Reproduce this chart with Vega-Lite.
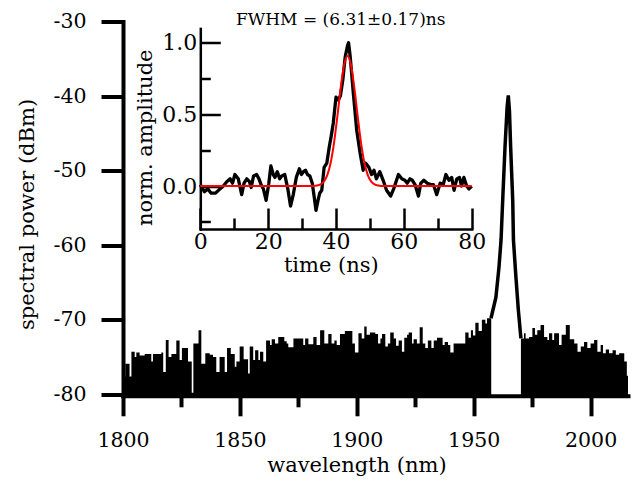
{
"$schema": "https://vega.github.io/schema/vega-lite/v6.json",
"width": 505, "height": 374.3,
"autosize": {"type": "none"},
"padding": {"left": 123, "top": 21.5, "right": 8, "bottom": 85.2},
"background": "white",
"config": {
  "view": {"stroke": null},
  "axis": {"grid": false, "labelFont": "DejaVu Serif", "titleFont": "DejaVu Serif", "labelColor": "black", "titleColor": "black", "domainColor": "black", "tickColor": "black", "titleFontWeight": "normal", "labelOverlap": false, "labelBound": false, "labelFlush": false, "domainCap": "square"}
},
"datasets": {
"spectrum": [
{"wl":1800.0,"p":-77.6,"seg":"a"},{"wl":1801.0,"p":-75.9,"seg":"a"},{"wl":1802.8,"p":-77.6,"seg":"a"},{"wl":1803.6,"p":-74.3,"seg":"a"},{"wl":1805.0,"p":-75.0,"seg":"a"},{"wl":1805.7,"p":-74.4,"seg":"a"},{"wl":1807.1,"p":-74.8,"seg":"a"},{"wl":1809.3,"p":-74.6,"seg":"a"},{"wl":1812.1,"p":-75.6,"seg":"a"},{"wl":1812.8,"p":-74.6,"seg":"a"},{"wl":1816.4,"p":-74.4,"seg":"a"},{"wl":1817.2,"p":-77.0,"seg":"a"},{"wl":1818.3,"p":-72.7,"seg":"a"},{"wl":1819.5,"p":-75.0,"seg":"a"},{"wl":1820.7,"p":-74.6,"seg":"a"},{"wl":1822.8,"p":-72.8,"seg":"a"},{"wl":1824.2,"p":-75.4,"seg":"a"},{"wl":1825.2,"p":-73.8,"seg":"a"},{"wl":1827.8,"p":-75.6,"seg":"a"},{"wl":1829.4,"p":-79.8,"seg":"a"},{"wl":1830.1,"p":-73.2,"seg":"a"},{"wl":1832.3,"p":-71.4,"seg":"a"},{"wl":1833.5,"p":-75.9,"seg":"a"},{"wl":1835.2,"p":-74.5,"seg":"a"},{"wl":1837.1,"p":-74.7,"seg":"a"},{"wl":1838.5,"p":-75.0,"seg":"a"},{"wl":1839.9,"p":-77.0,"seg":"a"},{"wl":1841.3,"p":-75.0,"seg":"a"},{"wl":1843.5,"p":-77.0,"seg":"a"},{"wl":1844.5,"p":-73.8,"seg":"a"},{"wl":1846.1,"p":-74.6,"seg":"a"},{"wl":1847.8,"p":-76.3,"seg":"a"},{"wl":1848.5,"p":-75.6,"seg":"a"},{"wl":1849.9,"p":-73.6,"seg":"a"},{"wl":1851.6,"p":-75.3,"seg":"a"},{"wl":1853.5,"p":-77.2,"seg":"a"},{"wl":1854.2,"p":-73.6,"seg":"a"},{"wl":1855.7,"p":-75.4,"seg":"a"},{"wl":1856.5,"p":-74.1,"seg":"a"},{"wl":1857.9,"p":-75.4,"seg":"a"},{"wl":1858.6,"p":-74.3,"seg":"a"},{"wl":1860.0,"p":-75.6,"seg":"a"},{"wl":1861.2,"p":-72.8,"seg":"a"},{"wl":1862.9,"p":-73.4,"seg":"a"},{"wl":1863.6,"p":-72.6,"seg":"a"},{"wl":1865.0,"p":-73.2,"seg":"a"},{"wl":1866.4,"p":-72.3,"seg":"a"},{"wl":1869.0,"p":-72.9,"seg":"a"},{"wl":1870.0,"p":-73.2,"seg":"a"},{"wl":1870.7,"p":-73.7,"seg":"a"},{"wl":1872.9,"p":-72.5,"seg":"a"},{"wl":1877.1,"p":-73.4,"seg":"a"},{"wl":1877.9,"p":-72.5,"seg":"a"},{"wl":1879.3,"p":-73.3,"seg":"a"},{"wl":1881.4,"p":-72.3,"seg":"a"},{"wl":1882.8,"p":-73.4,"seg":"a"},{"wl":1884.3,"p":-71.4,"seg":"a"},{"wl":1886.1,"p":-73.2,"seg":"a"},{"wl":1887.8,"p":-71.9,"seg":"a"},{"wl":1889.2,"p":-73.2,"seg":"a"},{"wl":1890.4,"p":-72.8,"seg":"a"},{"wl":1891.4,"p":-73.4,"seg":"a"},{"wl":1892.8,"p":-71.9,"seg":"a"},{"wl":1894.9,"p":-71.5,"seg":"a"},{"wl":1898.1,"p":-73.2,"seg":"a"},{"wl":1899.2,"p":-74.4,"seg":"a"},{"wl":1900.7,"p":-71.8,"seg":"a"},{"wl":1902.1,"p":-72.5,"seg":"a"},{"wl":1903.2,"p":-70.9,"seg":"a"},{"wl":1904.2,"p":-72.0,"seg":"a"},{"wl":1905.6,"p":-71.7,"seg":"a"},{"wl":1907.9,"p":-71.9,"seg":"a"},{"wl":1909.1,"p":-73.2,"seg":"a"},{"wl":1910.1,"p":-72.5,"seg":"a"},{"wl":1910.8,"p":-71.9,"seg":"a"},{"wl":1912.2,"p":-73.6,"seg":"a"},{"wl":1913.3,"p":-73.2,"seg":"a"},{"wl":1914.3,"p":-71.7,"seg":"a"},{"wl":1915.8,"p":-72.5,"seg":"a"},{"wl":1916.8,"p":-73.5,"seg":"a"},{"wl":1917.9,"p":-72.8,"seg":"a"},{"wl":1919.3,"p":-74.3,"seg":"a"},{"wl":1920.3,"p":-72.4,"seg":"a"},{"wl":1921.5,"p":-72.0,"seg":"a"},{"wl":1922.2,"p":-71.7,"seg":"a"},{"wl":1923.6,"p":-73.2,"seg":"a"},{"wl":1924.3,"p":-72.6,"seg":"a"},{"wl":1925.7,"p":-73.2,"seg":"a"},{"wl":1926.9,"p":-71.0,"seg":"a"},{"wl":1928.2,"p":-73.2,"seg":"a"},{"wl":1929.3,"p":-73.8,"seg":"a"},{"wl":1930.4,"p":-72.8,"seg":"a"},{"wl":1931.9,"p":-73.8,"seg":"a"},{"wl":1932.9,"p":-72.8,"seg":"a"},{"wl":1934.3,"p":-72.4,"seg":"a"},{"wl":1936.7,"p":-73.4,"seg":"a"},{"wl":1937.6,"p":-73.0,"seg":"a"},{"wl":1939.0,"p":-73.4,"seg":"a"},{"wl":1940.0,"p":-74.4,"seg":"a"},{"wl":1941.4,"p":-73.2,"seg":"a"},{"wl":1946.4,"p":-71.7,"seg":"a"},{"wl":1947.8,"p":-72.4,"seg":"a"},{"wl":1948.8,"p":-71.4,"seg":"a"},{"wl":1949.7,"p":-72.1,"seg":"a"},{"wl":1950.7,"p":-70.4,"seg":"a"},{"wl":1952.1,"p":-71.5,"seg":"a"},{"wl":1953.5,"p":-70.0,"seg":"a"},{"wl":1955.0,"p":-70.5,"seg":"a"},{"wl":1955.7,"p":-69.8,"seg":"a"},{"wl":1957.5,"p":-69.8,"seg":"a"},
{"wl":1970.2,"p":-72.5,"seg":"b"},{"wl":1971.5,"p":-71.8,"seg":"b"},{"wl":1972.2,"p":-72.5,"seg":"b"},{"wl":1973.7,"p":-72.3,"seg":"b"},{"wl":1975.1,"p":-71.1,"seg":"b"},{"wl":1976.2,"p":-72.0,"seg":"b"},{"wl":1977.2,"p":-71.4,"seg":"b"},{"wl":1978.6,"p":-70.7,"seg":"b"},{"wl":1980.1,"p":-72.3,"seg":"b"},{"wl":1981.5,"p":-72.7,"seg":"b"},{"wl":1982.2,"p":-71.8,"seg":"b"},{"wl":1983.6,"p":-72.7,"seg":"b"},{"wl":1984.4,"p":-71.8,"seg":"b"},{"wl":1986.5,"p":-73.4,"seg":"b"},{"wl":1987.6,"p":-72.0,"seg":"b"},{"wl":1989.4,"p":-70.7,"seg":"b"},{"wl":1991.1,"p":-72.6,"seg":"b"},{"wl":1993.0,"p":-73.2,"seg":"b"},{"wl":1994.4,"p":-74.3,"seg":"b"},{"wl":1995.8,"p":-73.6,"seg":"b"},{"wl":1997.2,"p":-73.0,"seg":"b"},{"wl":1998.6,"p":-73.8,"seg":"b"},{"wl":2000.0,"p":-73.2,"seg":"b"},{"wl":2001.5,"p":-72.7,"seg":"b"},{"wl":2002.9,"p":-74.3,"seg":"b"},{"wl":2004.3,"p":-73.4,"seg":"b"},{"wl":2005.3,"p":-74.5,"seg":"b"},{"wl":2006.5,"p":-74.0,"seg":"b"},{"wl":2007.9,"p":-74.5,"seg":"b"},{"wl":2009.4,"p":-74.1,"seg":"b"},{"wl":2010.8,"p":-74.7,"seg":"b"},{"wl":2012.2,"p":-74.5,"seg":"b"},{"wl":2014.4,"p":-75.6,"seg":"b"},{"wl":2015.5,"p":-77.5,"seg":"b"},{"wl":2016.0,"p":-77.5,"seg":"b"}
],
"peak": [
{"wl":1957.4,"p":-69.8},{"wl":1959.5,"p":-67.0},{"wl":1960.8,"p":-63.0},{"wl":1961.7,"p":-59.3},{"wl":1962.4,"p":-54.0},{"wl":1963.4,"p":-46.8},{"wl":1964.3,"p":-41.5},{"wl":1964.8,"p":-39.9},{"wl":1965.3,"p":-42.0},{"wl":1965.8,"p":-46.8},{"wl":1966.7,"p":-54.0},{"wl":1967.0,"p":-59.3},{"wl":1968.0,"p":-64.0},{"wl":1969.1,"p":-68.7},{"wl":1970.2,"p":-72.5}
],
"trace": [
{"t":0,"v":0.01},{"t":1.2,"v":-0.04},{"t":2.2,"v":-0.02},{"t":3.2,"v":-0.05},{"t":4.5,"v":-0.05},{"t":5.8,"v":-0.02},{"t":6.8,"v":0.0},{"t":7.8,"v":0.03},{"t":8.8,"v":0.05},{"t":9.5,"v":0.02},{"t":10.2,"v":0.08},{"t":11.2,"v":0.05},{"t":12.2,"v":-0.06},{"t":12.9,"v":0.02},{"t":13.7,"v":0.05},{"t":14.5,"v":0.03},{"t":15.0,"v":-0.01},{"t":15.7,"v":0.07},{"t":16.6,"v":0.08},{"t":17.3,"v":0.05},{"t":17.9,"v":0.01},{"t":18.6,"v":-0.02},{"t":19.4,"v":-0.1},{"t":20.2,"v":0.02},{"t":20.8,"v":0.14},{"t":21.5,"v":0.08},{"t":22.0,"v":0.06},{"t":22.7,"v":0.1},{"t":23.4,"v":0.05},{"t":24.0,"v":0.07},{"t":24.9,"v":0.08},{"t":25.8,"v":-0.02},{"t":26.6,"v":-0.14},{"t":27.4,"v":-0.06},{"t":28.3,"v":0.06},{"t":29.2,"v":0.12},{"t":29.8,"v":0.08},{"t":30.4,"v":0.1},{"t":31.0,"v":0.11},{"t":31.6,"v":0.08},{"t":32.3,"v":0.07},{"t":33.0,"v":0.02},{"t":33.6,"v":-0.08},{"t":34.1,"v":-0.17},{"t":34.7,"v":-0.1},{"t":35.2,"v":-0.05},{"t":35.8,"v":-0.03},{"t":36.5,"v":0.13},{"t":37.3,"v":0.16},{"t":38.0,"v":0.27},{"t":38.6,"v":0.35},{"t":39.2,"v":0.44},{"t":40.0,"v":0.62},{"t":40.7,"v":0.6},{"t":41.3,"v":0.63},{"t":42.0,"v":0.74},{"t":42.7,"v":0.9},{"t":43.4,"v":0.98},{"t":43.7,"v":1.0},{"t":44.2,"v":0.9},{"t":45.1,"v":0.65},{"t":46.1,"v":0.39},{"t":47.1,"v":0.23},{"t":48.0,"v":0.11},{"t":48.7,"v":0.16},{"t":49.7,"v":0.13},{"t":50.5,"v":0.08},{"t":51.2,"v":0.11},{"t":51.9,"v":0.05},{"t":52.9,"v":0.1},{"t":53.9,"v":0.04},{"t":54.9,"v":-0.03},{"t":56.1,"v":-0.07},{"t":57.0,"v":-0.02},{"t":58.4,"v":0.08},{"t":59.4,"v":0.05},{"t":60.3,"v":0.04},{"t":61.0,"v":0.02},{"t":61.8,"v":0.05},{"t":62.5,"v":0.04},{"t":63.3,"v":0.01},{"t":64.3,"v":-0.07},{"t":65.0,"v":0.02},{"t":65.9,"v":0.04},{"t":66.9,"v":0.02},{"t":67.9,"v":0.01},{"t":68.7,"v":0.01},{"t":69.7,"v":-0.06},{"t":70.7,"v":0.02},{"t":71.6,"v":0.01},{"t":72.4,"v":0.08},{"t":73.3,"v":0.04},{"t":74.1,"v":0.06},{"t":74.8,"v":-0.03},{"t":75.6,"v":0.05},{"t":76.4,"v":0.06},{"t":77.0,"v":0.0},{"t":77.7,"v":0.06},{"t":78.5,"v":0.0},{"t":79.2,"v":-0.02},{"t":80.0,"v":0.0}
],
"fit": [
{"t":0,"v":0},{"t":33.5,"v":0},{"t":34.4,"v":0.003},{"t":35.4,"v":0.011},{"t":36.4,"v":0.03},{"t":37.4,"v":0.074},{"t":38.4,"v":0.159},{"t":39.4,"v":0.298},{"t":40.4,"v":0.485},{"t":41.4,"v":0.687},{"t":42.4,"v":0.846},{"t":43.4,"v":0.907},{"t":44.4,"v":0.846},{"t":45.4,"v":0.687},{"t":46.4,"v":0.485},{"t":47.4,"v":0.298},{"t":48.4,"v":0.159},{"t":49.4,"v":0.074},{"t":50.4,"v":0.03},{"t":51.4,"v":0.011},{"t":52.4,"v":0.003},{"t":53.3,"v":0},{"t":80,"v":0}
],
"note": [{"label": "FWHM = (6.31±0.17)ns"}]
},
"layer": [
{
  "layer": [
    {
      "data": {"name": "spectrum"},
      "mark": {"type": "area", "interpolate": "step-after", "color": "black"},
      "encoding": {
        "x": {"field": "wl", "type": "quantitative",
          "scale": {"domain": [1800, 2016], "nice": false, "zero": false},
          "axis": {"orient": "bottom", "values": [1800,1825,1850,1875,1900,1925,1950,1975,2000], "format": "d",
            "labelExpr": "datum.value % 50 === 0 ? datum.label : ''",
            "tickSize": {"condition": {"test": "datum.value % 50 !== 0", "value": 11}, "value": 20},
            "tickWidth": 4, "domainWidth": 4, "labelFontSize": 20.5, "labelPadding": 15,
            "title": "wavelength (nm)", "titleFontSize": 21, "titleX": 233.4, "titleY": 76, "titleBaseline": "alphabetic"}},
        "y": {"field": "p", "type": "quantitative",
          "scale": {"domain": [-80.2, -30], "nice": false, "zero": false},
          "axis": {"orient": "left", "values": [-80,-75,-70,-65,-60,-55,-50,-45,-40,-35,-30],
            "labelExpr": "datum.value % 10 === 0 ? '-' + abs(datum.value) : ''",
            "tickSize": {"condition": {"test": "datum.value % 10 !== 0", "value": 12}, "value": 22},
            "tickWidth": 4, "domainWidth": 4, "labelFontSize": 20.5, "labelPadding": 15,
            "title": "spectral power (dBm)", "titleFontSize": 21, "titleX": -90, "titleY": 192.5, "titleBaseline": "alphabetic"}},
        "y2": {"datum": -80.2},
        "detail": {"field": "seg"}
      }
    },
    {
      "data": {"name": "peak"},
      "mark": {"type": "line", "color": "black", "strokeWidth": 3.5, "strokeJoin": "miter"},
      "encoding": {
        "x": {"field": "wl", "type": "quantitative"},
        "y": {"field": "p", "type": "quantitative"}
      }
    }
  ]
},
{
  "layer": [
    {
      "data": {"name": "trace"},
      "mark": {"type": "line", "color": "black", "strokeWidth": 3.3, "strokeJoin": "round"},
      "encoding": {
        "x": {"field": "t", "type": "quantitative",
          "scale": {"domain": [0, 80], "range": [77.3, 348.7], "nice": false, "zero": false},
          "axis": {"orient": "bottom", "offset": -166.8, "values": [0,10,20,30,40,50,60,70,80],
            "labelExpr": "datum.value % 20 === 0 ? datum.label : ''",
            "tickSize": {"condition": {"test": "datum.value % 20 !== 0", "value": -11}, "value": -21},
            "tickWidth": 2.5, "domainWidth": 2.5, "labelFontSize": 22, "labelPadding": 23,
            "title": "time (ns)", "titleFontSize": 21, "titleX": 207.8, "titleY": 42, "titleBaseline": "alphabetic"}},
        "y": {"field": "v", "type": "quantitative",
          "scale": {"domain": [-0.3, 1.1], "range": [207.5, 6.9], "nice": false, "zero": false},
          "axis": {"orient": "left", "offset": -77.3, "values": [-0.25, 0, 0.25, 0.5, 0.75, 1],
            "labelExpr": "datum.value % 0.5 === 0 ? format(datum.value, '.1f') : ''",
            "tickSize": {"condition": {"test": "datum.value % 0.5 !== 0", "value": -10}, "value": -20},
            "tickWidth": 2.5, "domainWidth": 2.5, "labelFontSize": 22, "labelPadding": 23.5,
            "title": "norm. amplitude", "titleFontSize": 21, "titleX": -48.8, "titleY": 115.8, "titleBaseline": "alphabetic"}}
      }
    },
    {
      "data": {"name": "fit"},
      "mark": {"type": "line", "color": "#ff0000", "strokeWidth": 2, "interpolate": "monotone"},
      "encoding": {
        "x": {"field": "t", "type": "quantitative"},
        "y": {"field": "v", "type": "quantitative"}
      }
    },
    {
      "data": {"name": "note"},
      "mark": {"type": "text", "font": "DejaVu Serif", "fontSize": 17, "align": "center", "baseline": "alphabetic", "dy": -3.4, "color": "black"},
      "encoding": {
        "x": {"datum": 41.4, "type": "quantitative"},
        "y": {"datum": 1.1, "type": "quantitative"},
        "text": {"field": "label"}
      }
    }
  ]
}
],
"resolve": {"scale": {"x": "independent", "y": "independent"}}
}
